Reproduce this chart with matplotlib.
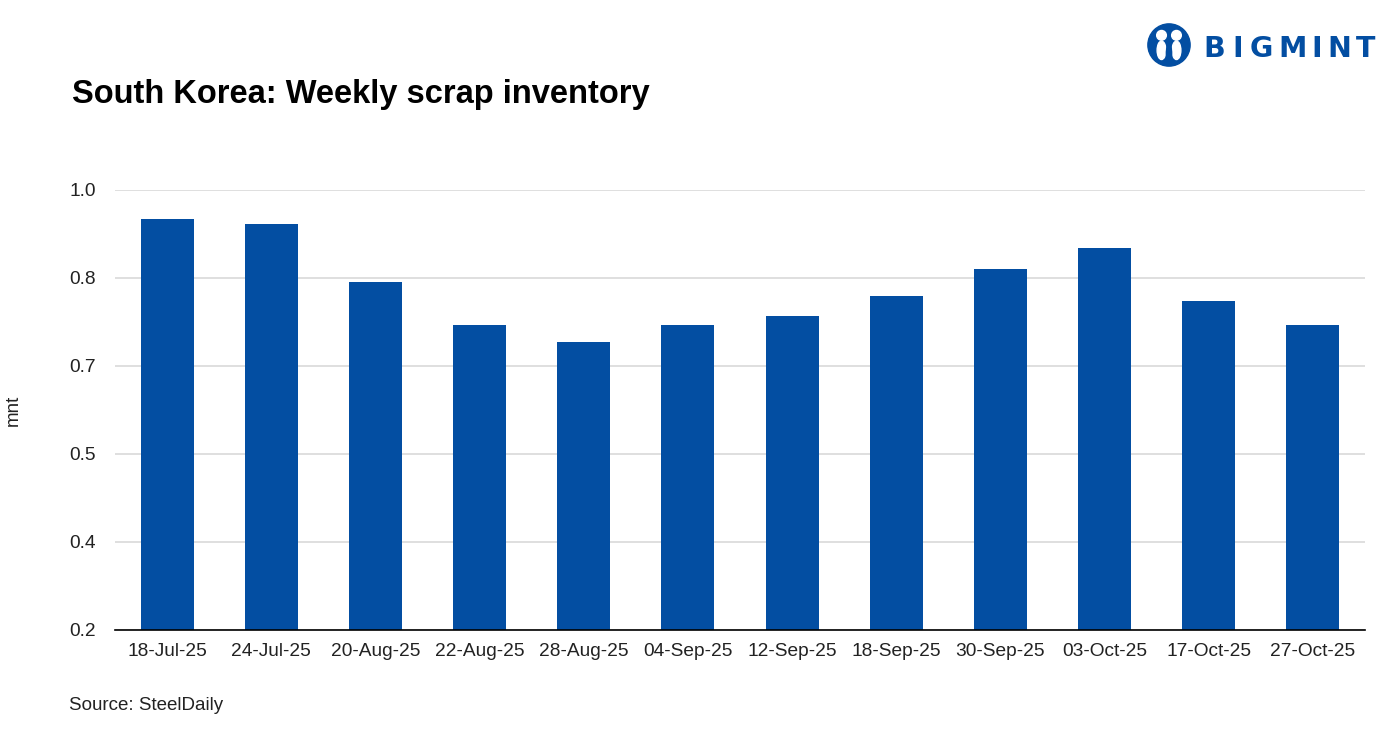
import numpy as np
import matplotlib.pyplot as plt
from matplotlib.patches import Circle, Ellipse

# Data
dates = ['18-Jul-25', '24-Jul-25', '20-Aug-25', '22-Aug-25', '28-Aug-25', '04-Sep-25',
         '12-Sep-25', '18-Sep-25', '30-Sep-25', '03-Oct-25', '17-Oct-25', '27-Oct-25']
inventory = [0.947, 0.938, 0.833, 0.755, 0.724, 0.755,
             0.771, 0.807, 0.856, 0.895, 0.798, 0.755]
y_ticks = np.linspace(0.2, 1.0, 6)

blue = '#034EA2'
plt.rcParams['font.family'] = ['Liberation Sans', 'DejaVu Sans']

fig = plt.figure(figsize=(13.92, 7.32), dpi=100)
ax = fig.add_axes([115 / 1392, 1 - 630 / 732, 1250 / 1392, 440 / 732])

x = np.arange(len(dates))
ax.bar(x, inventory, width=0.51, color=blue, zorder=3)
ax.set_xlim(-0.5, len(dates) - 0.5)
ax.set_ylim(0.2, 1.0)
ax.set_yticks(y_ticks)
ax.set_yticklabels([f'{v:.1f}' for v in y_ticks])
ax.set_xticks(x)
ax.set_xticklabels(dates)
ax.tick_params(axis='both', length=0, labelsize=13.8, colors='#222222')
ax.tick_params(axis='x', pad=9)
ax.tick_params(axis='y', pad=14)
ax.grid(axis='y', color='#D9D9D9', linewidth=1.2, zorder=0)
for s in ['top', 'right', 'left']:
    ax.spines[s].set_visible(False)
ax.spines['bottom'].set_color('black')
ax.spines['bottom'].set_linewidth(1.2)
ax.spines['bottom'].set_zorder(4)
ax.set_ylabel('mnt', fontsize=13.5, color='#222222')
ax.yaxis.set_label_coords((22 - 115) / 1250, 0.5)

fig.text(72 / 1392, 1 - 94 / 732, 'South Korea: Weekly scrap inventory',
         fontsize=23.5, fontweight='bold', va='center', ha='left')
fig.text(69 / 1392, 1 - 705 / 732, 'Source: SteelDaily', fontsize=13.5,
         va='center', ha='left', color='#222222')

# Logo: round icon with two figures, then spaced letters
logo = fig.add_axes([1147 / 1392, 1 - 67 / 732, 44 / 1392, 44 / 732])
logo.set_xlim(0, 1)
logo.set_ylim(0, 1)
logo.set_aspect('equal')
logo.axis('off')
logo.add_patch(Circle((0.5, 0.5), 0.48, color=blue))
for cx in (0.33, 0.67):
    logo.add_patch(Circle((cx, 0.72), 0.11, color='white'))
    logo.add_patch(Ellipse((cx, 0.38), 0.2, 0.42, color='white'))
logo.add_patch(Ellipse((0.5, 0.3), 0.12, 0.45, color=blue))

letter_x = [1214, 1238, 1261, 1293, 1317, 1339, 1366]
for ch, lx in zip('BIGMINT', letter_x):
    fig.text(lx / 1392, 1 - 49 / 732, ch, fontsize=20.5, fontweight='bold',
             family='DejaVu Sans', color=blue, va='center', ha='center')

fig.savefig('out.png', dpi=100)
